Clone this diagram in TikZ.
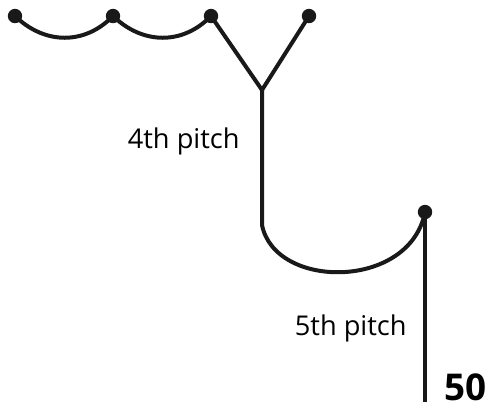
\documentclass[tikz,border=0pt]{standalone}
\usepackage{fontspec}
\setmainfont{Open Sans}
\usetikzlibrary{calc,positioning}

\begin{document}
\begin{tikzpicture}[x=0.02cm,y=-0.02cm,
  rope/.style={line width=0.08cm,color=black!90},
  knot/.style={fill=black!90},
  pitchlbl/.style={font=\fontsize{15.5}{18}\selectfont,anchor=base east,inner sep=0pt},
  belaylbl/.style={font=\fontsize{21}{25}\bfseries\selectfont,anchor=base west,inner sep=0pt}]
\useasboundingbox (0,0) rectangle (493,407);
% anchors on the top line
\coordinate (p1) at (15,16);
\coordinate (p2) at (113,16);
\coordinate (p3) at (211,16);
\coordinate (p4) at (309,16);
\coordinate (Y) at (262,90);
\coordinate (bend) at (262,225);
\coordinate (p5) at (425,212);
\coordinate (end) at (425,402);
% rope
\draw[rope] (p1) .. controls (45,45) and (85,45) .. (p2);
\draw[rope] (p2) .. controls (143,45) and (183,45) .. (p3);
\draw[rope] (p3)--(Y)--(p4);
\draw[rope] (Y)--(bend) .. controls (275,290) and (410,290) .. (p5);
\draw[rope] (p5)--(end);
\foreach \p in {p1,p2,p3,p4,p5}{\fill[knot] (\p) circle (7.2);}
% labels
\node[pitchlbl] (lbl4) at (240,148){4th pitch};
\node[pitchlbl] (lbl5) at (407,335){5th pitch};
\node[belaylbl] (num) at (444,400){50};
\end{tikzpicture}
\end{document}
